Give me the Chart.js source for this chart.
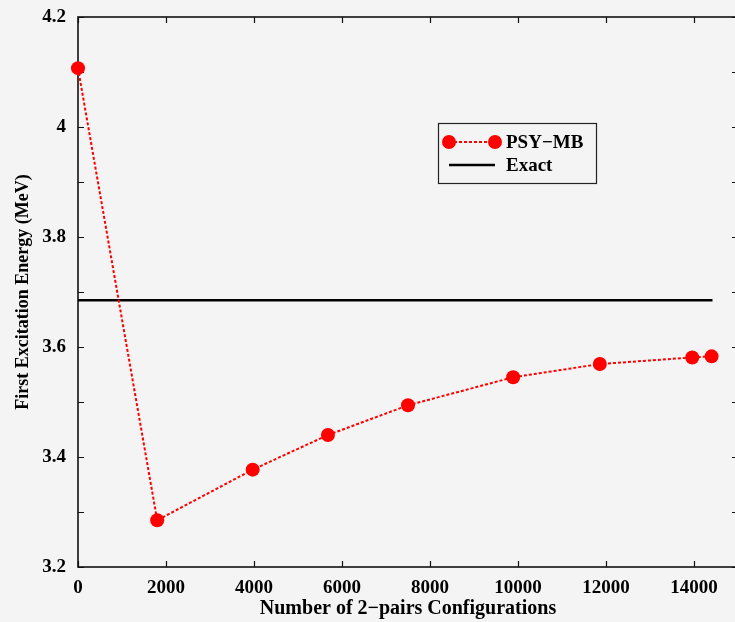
<!DOCTYPE html>
<html>
<head>
<meta charset="utf-8">
<script src="https://cdn.jsdelivr.net/npm/chart.js@4/dist/chart.umd.min.js"></script>
<style>
  html, body { margin: 0; padding: 0; background: #f4f4f4; overflow: hidden; }
  #wrap { width: 760px; height: 622px; }
</style>
</head>
<body>
<div id="wrap"><canvas id="c" width="760" height="622"></canvas></div>
<script>
// configurations vs. first excitation energy
const configs = [0, 1800, 3970, 5680, 7500, 9890, 11860, 13960, 14400];
const psyMb   = [4.107, 3.285, 3.377, 3.440, 3.494, 3.545, 3.569, 3.581, 3.583];
const exactRange = [0, 14420];
const exactEnergy = 3.685;
const xTicks = [0, 2000, 4000, 6000, 8000, 10000, 12000, 14000];
const yTicks = [3.2, 3.3, 3.4, 3.5, 3.6, 3.7, 3.8, 3.9, 4.0, 4.1, 4.2];
const yLabelled = [3.2, 3.4, 3.6, 3.8, 4.0, 4.2];

const SERIF = '"Liberation Serif", "Times New Roman", serif';
Chart.defaults.font.family = SERIF;
Chart.defaults.color = '#000';

// box + inward ticks on all four sides
const frame = {
  id: 'frame',
  beforeDatasetsDraw(chart) {
    const { ctx, chartArea: a, scales: { x, y } } = chart;
    ctx.save();
    ctx.strokeStyle = '#111';
    ctx.lineWidth = 1.6;
    ctx.strokeRect(a.left, a.top, a.right - a.left, a.bottom - a.top);
    ctx.lineWidth = 1.2;
    ctx.beginPath();
    x.ticks.forEach(t => {
      const px = Math.round(x.getPixelForValue(t.value)) + 0.5;
      ctx.moveTo(px, a.bottom); ctx.lineTo(px, a.bottom - 6);
      ctx.moveTo(px, a.top);    ctx.lineTo(px, a.top + 6);
    });
    y.ticks.forEach(t => {
      const py = Math.round(y.getPixelForValue(t.value)) + 0.5;
      ctx.moveTo(a.left, py);  ctx.lineTo(a.left + 6, py);
      ctx.moveTo(a.right, py); ctx.lineTo(a.right - 6, py);
    });
    ctx.stroke();
    ctx.restore();
  }
};

// legend box inside the plot
const legendBox = {
  id: 'legendBox',
  afterDraw(chart) {
    const { ctx } = chart;
    const [psy, exact] = chart.data.datasets;
    ctx.save();
    ctx.fillStyle = '#f4f4f4';
    ctx.fillRect(438, 123, 158, 60);
    ctx.strokeStyle = '#222';
    ctx.lineWidth = 1.2;
    ctx.strokeRect(438.5, 123.5, 158, 60);

    // PSY-MB row
    ctx.strokeStyle = psy.borderColor;
    ctx.lineWidth = psy.borderWidth;
    ctx.setLineDash(psy.borderDash);
    ctx.beginPath(); ctx.moveTo(449, 142); ctx.lineTo(495, 142); ctx.stroke();
    ctx.setLineDash([]);
    ctx.fillStyle = psy.pointBackgroundColor;
    [449, 495].forEach(cx => {
      ctx.beginPath(); ctx.arc(cx, 142, psy.pointRadius, 0, Math.PI * 2); ctx.fill();
    });

    // Exact row
    ctx.strokeStyle = exact.borderColor;
    ctx.lineWidth = exact.borderWidth;
    ctx.beginPath(); ctx.moveTo(449, 165); ctx.lineTo(495, 165); ctx.stroke();

    ctx.fillStyle = '#000';
    ctx.font = 'bold 19px ' + SERIF;
    ctx.textBaseline = 'middle';
    ctx.fillText(psy.label, 506, 143);
    ctx.fillText(exact.label, 506, 166);
    ctx.restore();
  }
};

new Chart(document.getElementById('c'), {
  type: 'scatter',
  data: {
    datasets: [
      {
        label: 'PSY\u2212MB',
        data: configs.map((c, i) => ({ x: c, y: psyMb[i] })),
        showLine: true,
        borderColor: '#ff0000',
        borderWidth: 2,
        borderDash: [3, 2],
        pointRadius: 7,
        pointHoverRadius: 7,
        pointBackgroundColor: '#ff0000',
        pointBorderWidth: 0,
        clip: false
      },
      {
        label: 'Exact',
        data: exactRange.map(v => ({ x: v, y: exactEnergy })),
        showLine: true,
        borderColor: '#000',
        borderWidth: 2.5,
        pointRadius: 0
      }
    ]
  },
  options: {
    responsive: false,
    animation: false,
    devicePixelRatio: 1,
    layout: { padding: { top: 17, right: 22, left: 0, bottom: 0 } },
    plugins: { legend: { display: false }, tooltip: { enabled: false } },
    scales: {
      x: {
        type: 'linear',
        min: 0, max: 15000,
        grid: { display: false, drawTicks: false },
        border: { display: false },
        afterBuildTicks: s => { s.ticks = xTicks.map(v => ({ value: v })); },
        ticks: {
          autoSkip: false,
          padding: 10,
          maxRotation: 0,
          font: { size: 19, weight: 'bold' },
          callback: v => String(v)
        },
        title: {
          display: true,
          text: 'Number of 2\u2212pairs Configurations',
          font: { size: 20, weight: 'bold' },
          padding: { top: 0, bottom: 1 }
        },
        afterFit: s => { s.height = 55; s.paddingLeft = 0; s.paddingRight = 0; }
      },
      y: {
        min: 3.2, max: 4.2,
        grid: { display: false, drawTicks: false },
        border: { display: false },
        afterBuildTicks: s => { s.ticks = yTicks.map(v => ({ value: v })); },
        ticks: {
          autoSkip: false,
          padding: 12,
          font: { size: 19, weight: 'bold' },
          callback: v => yLabelled.some(l => Math.abs(l - v) < 1e-6) ? String(+v.toFixed(1)) : ''
        },
        title: {
          display: true,
          text: 'First Excitation Energy (MeV)',
          font: { size: 18, weight: 'bold' },
          padding: { top: 13, bottom: 0 }
        },
        afterFit: s => { s.width = 78; s.paddingTop = 0; s.paddingBottom = 0; }
      }
    }
  },
  plugins: [frame, legendBox]
});
</script>
</body>
</html>
